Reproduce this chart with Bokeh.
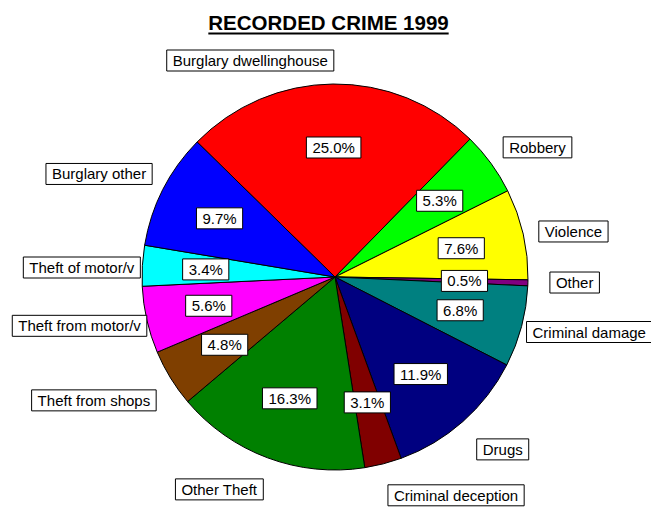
import math
from bokeh.plotting import figure
from bokeh.models import Range1d
from bokeh.core.properties import value
from bokeh.embed import file_html
from bokeh.resources import INLINE

# ---------------- data ----------------
categories = ["Burglary dwellinghouse", "Robbery", "Violence", "Other",
              "Criminal damage", "Drugs", "Criminal deception", "Other Theft",
              "Theft from shops", "Theft from motor/v", "Theft of motor/v",
              "Burglary other"]
shares = [25.0, 5.3, 7.6, 0.5, 6.8, 11.9, 3.1, 16.3, 4.8, 5.6, 3.4, 9.7]
colors = ["#FF0000", "#00FF00", "#FFFF00", "#800080", "#008080", "#000080",
          "#800000", "#008000", "#7F3F00", "#FF00FF", "#00FFFF", "#0000FF"]
title_text = "RECORDED CRIME 1999"

# ---------------- layout (pixels, image coords y-down) ----------------
W, H = 651, 507
def Y(y_img):
    return H - y_img

CX, CY_IMG, R = 334.5, 276.5, 193
START_DEG = 135.6          # first slice starts here and runs clockwise
PCT_R = 129.5
OUT_R = 208
PAD = dict(left=6, right=6, top=2, bottom=2)
FONT = "Liberation Sans"
FS = "15px"

# fine nudges of outside labels (dx, dy in image pixels)
nudges = [(1, 2), (0, 3.3), (1, 0.7), (7, -0.8), (-9.5, 1.6), (4, 6),
          (1, 6.4), (1, 7), (-1.6, 4), (14.6, 2.6), (13, 2.7), (2.6, 1.7)]

p = figure(width=W, height=H, output_backend="svg", toolbar_location=None,
           x_range=Range1d(0, W), y_range=Range1d(0, H),
           min_border=0, outline_line_color=None)
p.axis.visible = False
p.xgrid.visible = False
p.ygrid.visible = False
p.background_fill_color = "white"
p.border_fill_color = "white"

total = float(sum(shares))
cy = Y(CY_IMG)
ang = math.radians(START_DEG)
mids = []
for s, c in zip(shares, colors):
    span = s / total * 2 * math.pi
    end = ang - span
    p.wedge(x=CX, y=cy, radius=R, start_angle=end, end_angle=ang,
            fill_color=c, line_color="black", line_width=1)
    mids.append(ang - span / 2)
    ang = end

box_style = dict(text_font=value(FONT), text_font_size=FS, text_color="black",
                 background_fill_color="white", border_line_color="black",
                 border_line_width=1, padding=PAD)

# percentage labels
for s, m in zip(shares, mids):
    x = CX + PCT_R * math.cos(m)
    y = cy + PCT_R * math.sin(m)
    p.text(x=[x], y=[y], text=["%.1f%%" % s], text_align="center",
           text_baseline="middle", **box_style)

# category labels (box edge anchored next to the pie)
for cat, m, (dx, dy) in zip(categories, mids, nudges):
    ax = CX + OUT_R * math.cos(m) + dx
    ay_img = CY_IMG - OUT_R * math.sin(m) + dy
    align = "left" if math.cos(m) >= 0 else "right"
    sn = math.sin(m)
    if sn > 0.45:
        base = "bottom"
    elif sn < -0.45:
        base = "top"
    else:
        base = "middle"
    p.text(x=[ax], y=[Y(ay_img)], text=[cat], text_align=align,
           text_baseline=base, **box_style)

# title with underline
TX, TY = 328, 21.7
TFS = 20.5
p.text(x=[TX], y=[Y(TY)], text=[title_text], text_align="center",
       text_baseline="middle", text_font=value(FONT),
       text_font_size="%spx" % TFS, text_font_style="bold", text_color="black")
half = 0.5 * 11.724 * TFS
p.segment(x0=[TX - half], y0=[Y(33)], x1=[TX + half], y1=[Y(33)],
          line_color="black", line_width=2)

open("out.html", "w").write(file_html(p, INLINE))
